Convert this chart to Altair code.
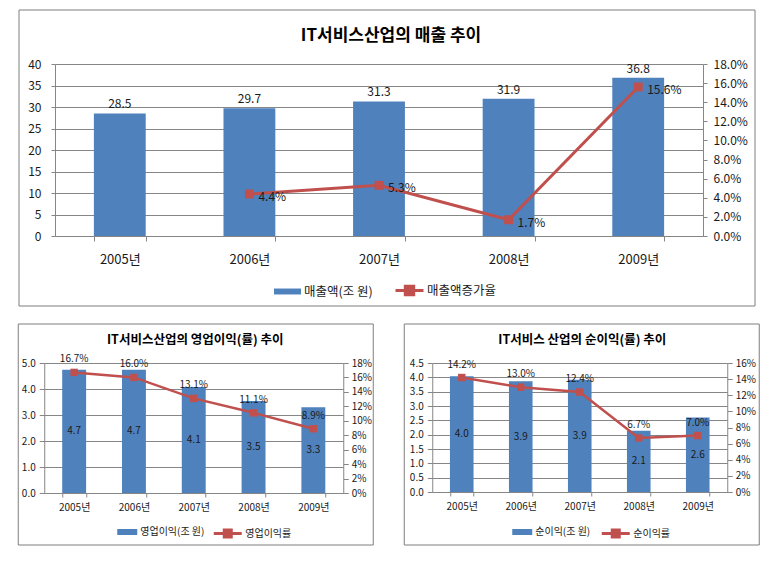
import altair as alt
import pandas as pd

FONT = "Noto Sans CJK KR"
BLUE = "#4F81BD"
RED = "#C0504D"
GRID = "#868686"
FRAME = "#7F7F7F"
TXT = "#1a1a1a"

# ---------------- data ----------------
years = ["2005년", "2006년", "2007년", "2008년", "2009년"]

sales = [28.5, 29.7, 31.3, 31.9, 36.8]
sales_growth = [None, 4.4, 5.3, 1.7, 15.6]

op_profit = [4.74, 4.74, 4.08, 3.54, 3.30]
op_margin = [16.7, 16.0, 13.1, 11.1, 8.9]

net_profit = [4.04, 3.86, 3.92, 2.14, 2.60]
net_margin = [14.2, 13.0, 12.4, 6.7, 7.0]

top_left_ticks = [0, 5, 10, 15, 20, 25, 30, 35, 40]
top_right_ticks = [0, 2, 4, 6, 8, 10, 12, 14, 16, 18]
bl_left_ticks = [0, 1, 2, 3, 4, 5]
bl_right_ticks = [0, 2, 4, 6, 8, 10, 12, 14, 16, 18]
br_left_ticks = [0, 0.5, 1, 1.5, 2, 2.5, 3, 3.5, 4, 4.5]
br_right_ticks = [0, 2, 4, 6, 8, 10, 12, 14, 16]


def panel(cats, bar_vals, rate_vals, bar_name, rate_name, title, s):
    df = pd.DataFrame({"year": cats, "val": bar_vals, "rate": rate_vals})
    df["bs"] = bar_name
    df["rs"] = rate_name
    df["mid"] = df["val"] / 2
    base = alt.Chart(df)

    x = alt.X(
        "year:N", sort=cats, title=None,
        scale=alt.Scale(paddingInner=0.6, paddingOuter=0.3),
        axis=alt.Axis(labelAngle=0, tickBand="extent", domainColor=GRID, tickColor=GRID,
                      tickSize=s["xtick"], labelPadding=s["xpad"], labelFont=FONT,
                      labelFontSize=s["xfs"], labelColor=TXT),
    )

    laxis = alt.Axis(values=s["lticks"], format=s["lfmt"], grid=True, gridColor=GRID,
                     domainColor=GRID, tickColor=GRID, tickSize=s["ytick"],
                     labelPadding=s["lpad"], labelFont=FONT, labelFontSize=s["yfs"],
                     labelColor=TXT)
    lscale = alt.Scale(domain=s["ldom"], nice=False, zero=True)
    raxis = alt.Axis(orient="right", values=s["rticks"], grid=False,
                     labelExpr=s["rexpr"], domainColor=GRID, tickColor=GRID,
                     tickSize=s["ytick"], labelPadding=s["rpad"], labelFont=FONT,
                     labelFontSize=s["yfs"], labelColor=TXT)
    rscale = alt.Scale(domain=s["rdom"], nice=False, zero=True)

    one = pd.DataFrame({"f": [0]})
    frame = alt.Chart(one).mark_rect(
        filled=False, stroke=FRAME, strokeWidth=1
    ).encode(
        x=alt.value(s["frame"][0]), x2=alt.value(s["frame"][1]),
        y=alt.value(s["frame"][2]), y2=alt.value(s["frame"][3]),
    )
    extra = alt.Chart(one).mark_rect(opacity=0).encode(
        x=alt.value(s["frame"][0]), x2=alt.value(s["frame"][1] + s.get("extra", 0)),
        y=alt.value(s["frame"][2]), y2=alt.value(s["frame"][3]),
    )
    ttl = alt.Chart(one).mark_text(
        font=FONT, fontSize=s["tfs"], fontWeight="bold", color="#000", baseline="middle"
    ).encode(x=alt.value(s["title"][0]), y=alt.value(s["title"][1]), text=alt.value(title))

    bars = base.mark_bar(color=BLUE).encode(
        x=x, y=alt.Y("val:Q", title=None, scale=lscale, axis=laxis),
        color=alt.Color("bs:N", scale=alt.Scale(range=[BLUE]),
                        legend=alt.Legend(title=None, orient="none", legendX=s["lg1"][0],
                                          legendY=s["lg1"][1], direction="horizontal",
                                          symbolType=s["barpath"], symbolSize=s["barsize"],
                                          symbolStrokeWidth=0, labelFont=FONT,
                                          labelFontSize=s["lgfs"], labelColor=TXT,
                                          labelOffset=3)),
    )
    if s["barlab"] == "top":
        blab = base.mark_text(font=FONT, fontSize=s["bfs"], color=TXT, dy=-9).encode(
            x=x, y=alt.Y("val:Q", title=None, scale=lscale, axis=laxis),
            text=alt.Text("val:Q", format=".1f"))
    else:
        blab = base.mark_text(font=FONT, fontSize=s["bfs"], color=TXT).encode(
            x=x, y=alt.Y("mid:Q", title=None, scale=lscale, axis=laxis),
            text=alt.Text("val:Q", format=".1f"))
    left = alt.layer(bars, blab)

    line = base.mark_line(strokeWidth=s["lw"]).encode(
        x=x, y=alt.Y("rate:Q", title=None, scale=rscale, axis=raxis),
        stroke=alt.Stroke("rs:N", scale=alt.Scale(range=[RED]),
                          legend=alt.Legend(title=None, orient="none", legendX=s["lg2"][0],
                                            legendY=s["lg2"][1], direction="horizontal",
                                            symbolType=s["linepath"], symbolSize=s["linesize"],
                                            symbolStrokeWidth=3, symbolFillColor=RED,
                                            labelFont=FONT, labelFontSize=s["lgfs"],
                                            labelColor=TXT, labelOffset=2)),
    )
    pts = base.mark_point(shape="square", filled=True, size=s["ms"], opacity=1, color=RED).encode(
        x=x, y=alt.Y("rate:Q", title=None, scale=rscale, axis=raxis))
    rlab = base.transform_filter("isValid(datum.rate)").transform_calculate(
        lab="format(datum.rate, '.1f') + '%'"
    ).mark_text(font=FONT, fontSize=s["rfs"], color=TXT, align=s["ralign"],
                dx=s["rdx"], dy=s["rdy"]).encode(
        x=x, y=alt.Y("rate:Q", title=None, scale=rscale, axis=raxis),
        text="lab:N")
    right = alt.layer(line, pts, rlab)

    return alt.layer(extra, frame, ttl, left, right).resolve_scale(y="independent").properties(
        width=s["w"], height=s["h"])


top_spec = dict(
    w=648, h=172, xtick=5, xpad=12, xfs=13, ytick=4, yfs=12, lpad=10, rpad=6,
    ldom=[0, 40], lticks=top_left_ticks, lfmt="d",
    rdom=[0, 18], rticks=top_right_ticks, rexpr="format(datum.value, '.1f') + '%'",
    frame=[-36, 700, -54, 242], title=[336, -28], tfs=17,
    lg1=[219, 214], lg2=[339, 211],
    barpath="M-1,-0.22H1V0.22H-1Z", barsize=729,
    linepath="M-1,0H1M-0.3,-0.3H0.3V0.3H-0.3Z", linesize=784,
    lgfs=12.5, barlab="top", bfs=12, lw=3, ms=80, rfs=12, ralign="left", rdx=9, rdy=3,
)
bl_spec = dict(
    w=299, h=130, xtick=4, xpad=5, xfs=10, ytick=5, yfs=10, lpad=4, rpad=3,
    ldom=[0, 5], lticks=bl_left_ticks, lfmt=".1f",
    rdom=[0, 18], rticks=bl_right_ticks, rexpr="format(datum.value, 'd') + '%'",
    frame=[-26, 329, -39, 182], title=[151, -23], tfs=12.5,
    lg1=[73, 159], lg2=[168, 155],
    barpath="M-1,-0.3H1V0.3H-1Z", barsize=400,
    linepath="M-1,0H1M-0.25,-0.25H0.25V0.25H-0.25Z", linesize=784,
    lgfs=10, barlab="mid", bfs=10, lw=2.5, ms=55, rfs=10, ralign="center", rdx=0, rdy=-13,
)
br_spec = dict(bl_spec)
br_spec.update(
    w=295, h=129, ldom=[0, 4.5], lticks=br_left_ticks,
    rdom=[0, 16], rticks=br_right_ticks,
    frame=[-28, 327, -39, 182], title=[150, -23],
    lg1=[80, 159], lg2=[168, 155], extra=7,
)

top = panel(years, sales, sales_growth, "매출액(조 원)", "매출액증가율",
            "IT서비스산업의 매출 추이", top_spec)
bl = panel(years, op_profit, op_margin, "영업이익(조 원)", "영업이익률",
           "IT서비스산업의 영업이익(률) 추이", bl_spec)
br = panel(years, net_profit, net_margin, "순이익(조 원)", "순이익률",
           "IT서비스 산업의 순이익(률) 추이", br_spec)

bottom = alt.hconcat(bl, br, spacing=29).resolve_scale(color="independent", stroke="independent")
chart = alt.vconcat(top, bottom, spacing=16, center=True).resolve_scale(
    color="independent", stroke="independent"
).properties(
    padding={"left": 17, "top": 9, "right": 0, "bottom": 0}, background="white"
).configure_view(stroke="transparent")

chart.save("out.html", embed_options={"renderer": "svg", "actions": False})
